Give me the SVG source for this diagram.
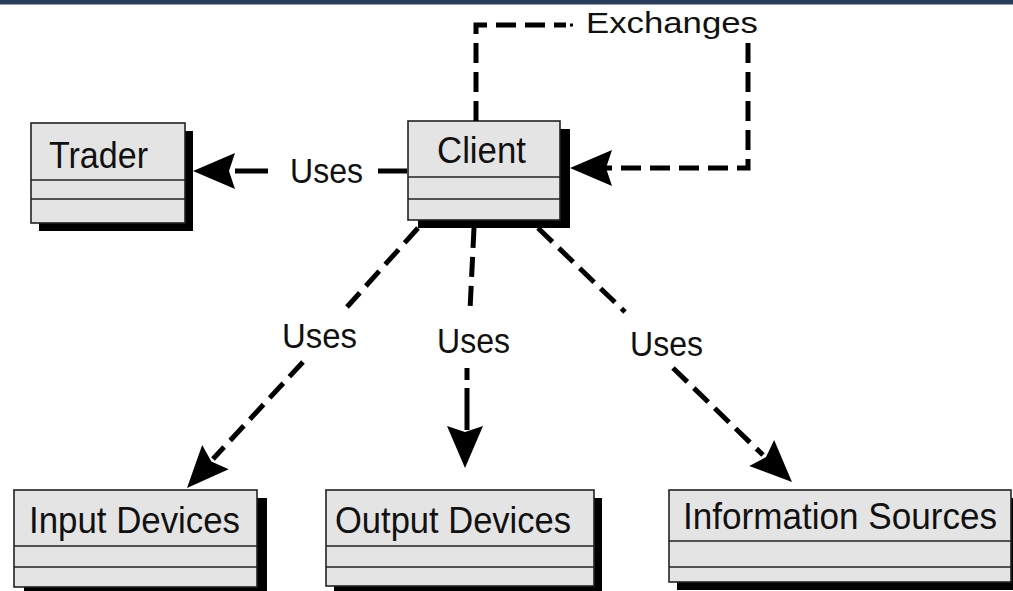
<svg xmlns="http://www.w3.org/2000/svg" width="1013" height="591" viewBox="0 0 1013 591">
<style>
.box{fill:#e4e4e4;stroke:#222;stroke-width:1.6}
.shadow{fill:#000}
.div{stroke:#222;stroke-width:1.6}
.t{font-family:"Liberation Sans",Arial,sans-serif;font-size:36px;fill:#111}
.lbl{font-family:"Liberation Sans",Arial,sans-serif;font-size:35px;fill:#111}
.ln{fill:none;stroke:#000;stroke-width:5}
.dash{stroke-dasharray:20 9}
</style>
<defs>
<polygon id="ah" points="0,0 -42,-18 -36,0 -42,18" fill="#000"/>
</defs>
<rect x="0" y="0" width="1013" height="4.5" fill="#283d5c"/>
<g id="trader">
<rect class="shadow" x="39" y="131" width="154" height="100"/>
<rect class="box" x="31" y="123" width="154" height="100"/>
<line class="div" x1="31" y1="180" x2="185" y2="180"/>
<line class="div" x1="31" y1="199" x2="185" y2="199"/>
<text class="t" x="49" y="168" textLength="99" lengthAdjust="spacingAndGlyphs">Trader</text>
</g>
<g id="client">
<rect class="shadow" x="418" y="129" width="152" height="99"/>
<rect class="box" x="408" y="121" width="152" height="99"/>
<line class="div" x1="408" y1="177" x2="560" y2="177"/>
<line class="div" x1="408" y1="199" x2="560" y2="199"/>
<text class="t" x="437" y="163" textLength="89" lengthAdjust="spacingAndGlyphs">Client</text>
</g>
<g id="input-devices">
<rect class="shadow" x="24" y="498" width="243" height="97"/>
<rect class="box" x="14" y="490" width="243" height="97"/>
<line class="div" x1="14" y1="546" x2="257" y2="546"/>
<line class="div" x1="14" y1="567" x2="257" y2="567"/>
<text class="t" x="29" y="533" textLength="211" lengthAdjust="spacingAndGlyphs">Input Devices</text>
</g>
<g id="output-devices">
<rect class="shadow" x="334" y="498" width="268" height="96"/>
<rect class="box" x="326" y="490" width="268" height="96"/>
<line class="div" x1="326" y1="546" x2="594" y2="546"/>
<line class="div" x1="326" y1="567" x2="594" y2="567"/>
<text class="t" x="335" y="533" textLength="236" lengthAdjust="spacingAndGlyphs">Output Devices</text>
</g>
<g id="information-sources">
<rect class="shadow" x="677" y="498" width="342" height="92"/>
<rect class="box" x="669" y="490" width="342" height="92"/>
<line class="div" x1="669" y1="541" x2="1011" y2="541"/>
<line class="div" x1="669" y1="567" x2="1011" y2="567"/>
<text class="t" x="683" y="529" textLength="314" lengthAdjust="spacingAndGlyphs">Information Sources</text>
</g>
<g id="connectors">
<!-- Client -> Trader -->
<path class="ln" d="M407,171 H378"/>
<path class="ln" d="M268,171 H235"/>
<use href="#ah" transform="translate(193,171) rotate(180)"/>
<text class="lbl" x="290" y="183" textLength="73" lengthAdjust="spacingAndGlyphs">Uses</text>
<!-- Exchanges self loop -->
<path class="ln dash" d="M476,121 V25 H566"/>
<rect x="570" y="23.5" width="3" height="3" fill="#000"/>
<text class="lbl" x="586" y="33" font-size="29" style="font-size:29px" textLength="172" lengthAdjust="spacingAndGlyphs">Exchanges</text>
<path class="ln dash" d="M748,43 V168 H605"/>
<use href="#ah" transform="translate(570,168) rotate(180)"/>
<!-- Client -> Input Devices -->
<path class="ln dash" d="M418,228 L347,307"/>
<path class="ln dash" d="M303,362 L213,459"/>
<use href="#ah" transform="translate(187,488) rotate(132.6)"/>
<text class="lbl" x="282" y="348" textLength="75" lengthAdjust="spacingAndGlyphs">Uses</text>
<!-- Client -> Output Devices -->
<path class="ln dash" d="M474,228 L470,310"/>
<path class="ln" d="M467,368 V380 M467,388 V430"/>
<use href="#ah" transform="translate(465,468) rotate(90)"/>
<text class="lbl" x="437" y="353" textLength="73" lengthAdjust="spacingAndGlyphs">Uses</text>
<!-- Client -> Information Sources -->
<path class="ln dash" d="M538,228 L625,312"/>
<path class="ln dash" d="M673,368 L763,455"/>
<use href="#ah" transform="translate(792,482) rotate(43.8)"/>
<text class="lbl" x="630" y="356" textLength="73" lengthAdjust="spacingAndGlyphs">Uses</text>
</g>
</svg>
